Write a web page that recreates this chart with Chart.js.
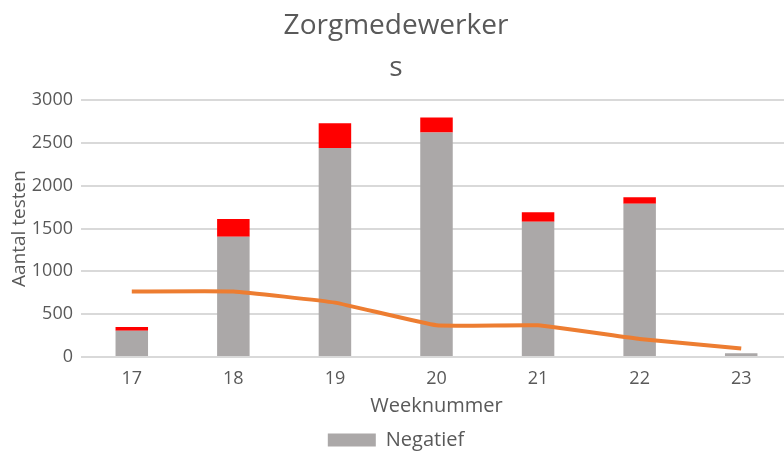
<!DOCTYPE html>
<html>
<head>
<meta charset="utf-8">
<script src="https://cdn.jsdelivr.net/npm/chart.js@4/dist/chart.umd.min.js"></script>
<style>
  html, body { margin: 0; padding: 0; background: #fff; overflow: hidden; }
  #wrap { width: 784px; height: 452px; overflow: hidden; }
</style>
</head>
<body>
<div id="wrap"><canvas id="zorgChart" width="792" height="452"></canvas></div>
<script>
// Data
const weeks = ["17", "18", "19", "20", "21", "22", "23"];
const negatief = [305, 1405, 2440, 2620, 1580, 1790, 45];
const positief = [45, 205, 290, 175, 110, 75, 0];
const trend = [765, 765, 635, 370, 370, 210, 100];

const textColor = "#595959";
const font = "'Open Sans', sans-serif";

const ctx = document.getElementById("zorgChart").getContext("2d");
const zorgChart = new Chart(ctx, {
  type: "bar",
  data: {
    labels: weeks,
    datasets: [
      {
        type: "line",
        label: "Trend",
        data: trend,
        borderColor: "#ED7D31",
        borderWidth: 4,
        pointRadius: 0,
        tension: 0.1,
        fill: false,
        stack: "lijn",
        order: 0,
      },
      {
        label: "Negatief",
        data: negatief,
        backgroundColor: "#ABA8A8",
        borderWidth: 0,
        stack: "testen",
        order: 1,
      },
      {
        label: "Positief",
        data: positief,
        backgroundColor: "#FF0000",
        borderWidth: 0,
        stack: "testen",
        order: 2,
      },
    ],
  },
  options: {
    responsive: false,
    animation: false,
    layout: { padding: { left: 0, right: 0, top: 0, bottom: -8 } },
    datasets: {
      bar: { categoryPercentage: 1, barPercentage: 0.32 },
    },
    plugins: {
      title: {
        display: true,
        text: ["Zorgmedewerker", "s"],
        color: textColor,
        font: { family: font, size: 28, weight: "normal", lineHeight: 1.5 },
        padding: { top: 5, bottom: 11 },
      },
      legend: {
        position: "bottom",
        labels: {
          color: textColor,
          font: { family: font, size: 20 },
          boxWidth: 48,
          boxHeight: 13,
          padding: 3,
          filter: (item) => item.text === "Negatief",
        },
      },
      tooltip: { enabled: false },
    },
    scales: {
      x: {
        stacked: true,
        grid: { display: false },
        border: { display: false },
        ticks: { color: textColor, font: { family: font, size: 18 }, padding: 3 },
        title: {
          display: true,
          text: "Weeknummer",
          color: textColor,
          font: { family: font, size: 20 },
          padding: { top: 0, bottom: 9 },
        },
        afterFit: (scale) => { scale.height = 70; },
      },
      y: {
        stacked: true,
        min: 0,
        max: 3000,
        ticks: {
          stepSize: 500,
          color: textColor,
          font: { family: font, size: 18 },
          padding: 8,
          callback: (value) => String(value),
        },
        grid: { color: "#D9D9D9", lineWidth: 2, drawTicks: false },
        border: { display: false },
        title: {
          display: true,
          text: "Aantal testen",
          color: textColor,
          font: { family: font, size: 19 },
          padding: { top: 8, bottom: 4 },
        },
        afterFit: (scale) => { scale.width = 81; },
      },
    },
  },
});
</script>
</body>
</html>
